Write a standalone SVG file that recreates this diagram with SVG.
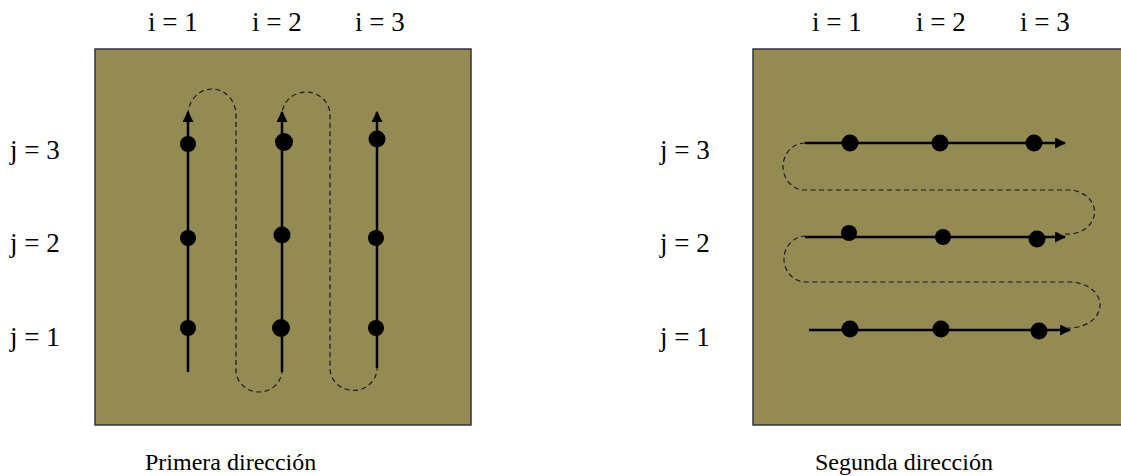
<svg xmlns="http://www.w3.org/2000/svg" width="1121" height="476" viewBox="0 0 1121 476">
<style>
.lbl{font-family:"Liberation Serif","Times New Roman",serif;font-size:27px;fill:#000}
.cap{font-family:"Liberation Serif","Times New Roman",serif;font-size:24px;fill:#000}
.panel{fill:#948A54;stroke:#333;stroke-width:1.5}
.path{fill:none;stroke:#000;stroke-width:2.5}
.dash{fill:none;stroke:#1a1a1a;stroke-width:1.2;stroke-dasharray:5,3.5}
.dot{fill:#000}
</style>
<defs>
<marker id="ah" viewBox="0 0 10 10" refX="9" refY="5" markerWidth="4.4" markerHeight="4.4" orient="auto" markerUnits="strokeWidth">
<path d="M0,0 L10,5 L0,10 z" fill="#000"/>
</marker>
</defs>

<g id="panel-left">
<rect class="panel" x="95" y="49" width="376" height="376"/>
</g>
<g id="panel-right">
<rect class="panel" x="753" y="49" width="376" height="376"/>
</g>

<g id="labels-left">
<text class="lbl" x="148" y="31">i = 1</text>
<text class="lbl" x="252" y="31">i = 2</text>
<text class="lbl" x="355" y="31">i = 3</text>
<text class="lbl" x="10" y="159">j = 3</text>
<text class="lbl" x="10" y="252">j = 2</text>
<text class="lbl" x="10" y="346">j = 1</text>
<text class="cap" x="145" y="470">Primera dirección</text>
</g>
<g id="labels-right">
<text class="lbl" x="812" y="31">i = 1</text>
<text class="lbl" x="916" y="31">i = 2</text>
<text class="lbl" x="1020" y="31">i = 3</text>
<text class="lbl" x="660" y="159">j = 3</text>
<text class="lbl" x="660" y="252">j = 2</text>
<text class="lbl" x="660" y="346">j = 1</text>
<text class="cap" x="815" y="470">Segunda dirección</text>
</g>

<g id="connectors">
<path class="dash" d="M188,115 A24,26 0 0 1 236,115 L236,370 A23,22 0 0 0 282,370 L282,115 A24,23 0 0 1 330,115 L330,368 A23,22 0 0 0 377,368"/>
<path class="dash" d="M805,143 A22,23.5 0 0 0 805,190 L1070,190 A27,22 0 0 1 1065,234 M806,236 A22,23 0 0 0 806,282 L1071,282 A31,23 0 0 1 1067,328"/>
<line class="path" x1="188" y1="372" x2="188" y2="112" marker-end="url(#ah)"/>
<line class="path" x1="282" y1="372" x2="282" y2="112" marker-end="url(#ah)"/>
<line class="path" x1="377" y1="368" x2="377" y2="112" marker-end="url(#ah)"/>
<line class="path" x1="805" y1="143" x2="1065" y2="143" marker-end="url(#ah)"/>
<line class="path" x1="805" y1="237" x2="1065" y2="237" marker-end="url(#ah)"/>
<line class="path" x1="809" y1="330" x2="1070" y2="330" marker-end="url(#ah)"/>
</g>

<g id="nodes-left">
<circle class="dot" cx="188" cy="144" r="8"/>
<circle class="dot" cx="188" cy="238" r="8"/>
<circle class="dot" cx="188" cy="328" r="8"/>
<circle class="dot" cx="284" cy="142" r="9"/>
<circle class="dot" cx="282" cy="235" r="8.5"/>
<circle class="dot" cx="281" cy="328" r="9"/>
<circle class="dot" cx="377" cy="139" r="8.5"/>
<circle class="dot" cx="376" cy="238" r="8"/>
<circle class="dot" cx="376" cy="328" r="8"/>
</g>
<g id="nodes-right">
<circle class="dot" cx="850" cy="143" r="8.5"/>
<circle class="dot" cx="940" cy="143" r="8.5"/>
<circle class="dot" cx="1034" cy="143" r="8.5"/>
<circle class="dot" cx="849" cy="233" r="8"/>
<circle class="dot" cx="943" cy="237" r="8"/>
<circle class="dot" cx="1037" cy="239" r="8.5"/>
<circle class="dot" cx="850" cy="329" r="8.5"/>
<circle class="dot" cx="941" cy="329" r="8.5"/>
<circle class="dot" cx="1039" cy="331" r="8.5"/>
</g>
</svg>
